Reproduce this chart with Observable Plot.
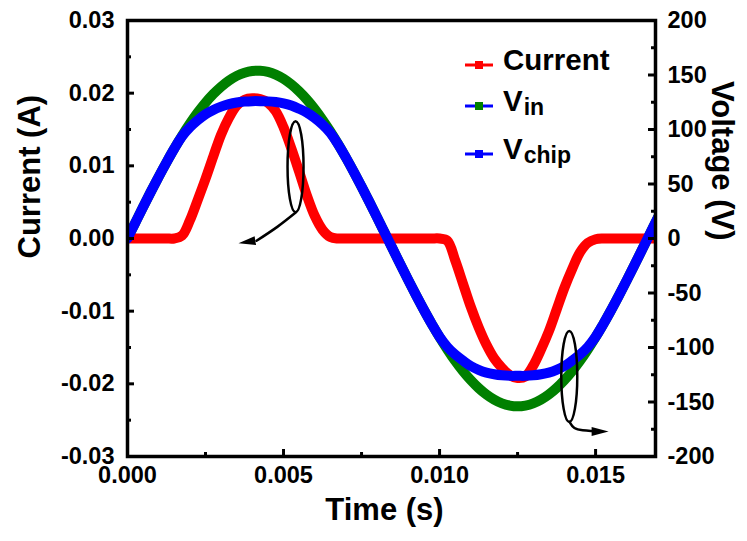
<!DOCTYPE html>
<html><head><meta charset="utf-8">
<script src="https://cdn.jsdelivr.net/npm/d3@7"></script>
<script src="https://cdn.jsdelivr.net/npm/@observablehq/plot@0.6"></script>
<style>body{margin:0;background:#fff} svg{display:block}</style>
</head><body><div id="chart"></div>
<script>
// ---- data ----
const time = [0, 0.00025, 0.0005, 0.00075, 0.001, 0.00125, 0.0015, 0.00175, 0.002, 0.00225, 0.0025, 0.00275, 0.003, 0.00325, 0.0035, 0.00375, 0.004, 0.00425, 0.0045, 0.00475, 0.005, 0.00525, 0.0055, 0.00575, 0.006, 0.00625, 0.0065, 0.00675, 0.007, 0.00725, 0.0075, 0.00775, 0.008, 0.00825, 0.0085, 0.00875, 0.009, 0.00925, 0.0095, 0.00975, 0.01, 0.01025, 0.0105, 0.01075, 0.011, 0.01125, 0.0115, 0.01175, 0.012, 0.01225, 0.0125, 0.01275, 0.013, 0.01325, 0.0135, 0.01375, 0.014, 0.01425, 0.0145, 0.01475, 0.015, 0.01525, 0.0155, 0.01575, 0.016, 0.01625, 0.0165, 0.01675, 0.017];
const current = [0, 0, 0, 0, 0, 0, 0, 0.0004, 0.0025, 0.0053, 0.0082, 0.0113, 0.0143, 0.0166, 0.0183, 0.0191, 0.0193, 0.0192, 0.0187, 0.0175, 0.0153, 0.0124, 0.0092, 0.0059, 0.0031, 0.0012, 0.0002, 0, 0, 0, 0, 0, 0, 0, 0, 0, 0, 0, 0, 0, 0, -0.0003, -0.003, -0.0062, -0.0094, -0.0122, -0.0146, -0.0165, -0.0178, -0.0188, -0.0192, -0.019, -0.0175, -0.0153, -0.0128, -0.0098, -0.0068, -0.0042, -0.0019, -0.0006, -0.0001, 0, 0, 0, 0, 0, 0, 0, 0];
const vin = [0, 14.5, 28.9, 43.0, 56.7, 69.9, 82.5, 94.4, 105.4, 115.5, 124.6, 132.5, 139.3, 144.9, 149.2, 152.1, 153.7, 153.9, 152.8, 150.3, 146.5, 141.3, 134.9, 127.4, 118.7, 108.9, 98.2, 86.6, 74.2, 61.2, 47.6, 33.6, 19.3, 4.8, -9.7, -24.1, -38.3, -52.2, -65.6, -78.4, -90.5, -101.8, -112.3, -121.7, -130.0, -137.2, -143.2, -147.9, -151.3, -153.3, -154.0, -153.3, -151.3, -147.9, -143.2, -137.2, -130.0, -121.7, -112.3, -101.8, -90.5, -78.4, -65.6, -52.2, -38.3, -24.1, -9.7, 4.8, 19.3];
const vchip = [0, 14.5, 28.9, 43.0, 56.7, 69.9, 82.5, 93.8, 102, 108.5, 114, 118, 121, 123.3, 124.8, 125.6, 126, 126, 125.8, 125.2, 124, 122, 119, 115.5, 110.5, 104.5, 97, 86.4, 74.2, 61.2, 47.6, 33.6, 19.3, 4.8, -9.7, -24.1, -38.3, -52.2, -65.6, -78.4, -90.2, -99.5, -106.5, -112, -117, -120.5, -123, -124.5, -125.5, -126, -126, -126, -125.5, -124.5, -123, -120.5, -117, -112, -106.5, -99.5, -90.2, -78.4, -65.6, -52.2, -38.3, -24.1, -9.7, 4.8, 19.3];

const currentTicks = [-0.03, -0.02, -0.01, 0, 0.01, 0.02, 0.03];
const currentMinorTicks = [-0.025, -0.015, -0.005, 0.005, 0.015, 0.025];
const voltageTicks = [-200, -150, -100, -50, 0, 50, 100, 150, 200];
const voltageMinorTicks = [-175, -125, -75, -25, 25, 75, 125, 175];
const timeTicks = [0, 0.005, 0.01, 0.015];
const timeMinorTicks = [0.0025, 0.0075, 0.0125];
const timeDomain = [0, 0.01692];
const currentDomain = [-0.03, 0.03];
const voltageDomain = [-200, 200];

const seriesNames = ["Current", "Vin", "Vchip"];
const seriesColors = ["#ff0000", "#008000", "#0000ff"];

// annotation positions (data units: time, current)
const ellipseNotes = [{t: 0.005385, i: 0.009876}, {t: 0.014157, i: -0.018981}];
const arrow1Path = [{t: 0.0054006, i: 0.003609}, {t: 0.0048, i: 0.0016}, {t: 0.0041346, i: -0.000317}];
const arrow2Path = [{t: 0.014167, i: -0.025234}, {t: 0.014295, i: -0.026198}, {t: 0.014583, i: -0.026419}, {t: 0.014904, i: -0.026488}];
const arrowTips = [{t: 0.0035577, i: -0.000661, angle: 261}, {t: 0.015417, i: -0.026556, angle: 90}];

// ---- build ----
const voltToCurrent = currentDomain[1] / voltageDomain[1];
const rows = time.map((t, k) => ({t, current: current[k], vin: vin[k] * voltToCurrent, vchip: vchip[k] * voltToCurrent}));

const W = 747, H = 541, mL = 127, mR = 92, mT = 20, mB = 85;
const fw = W - mL - mR, fh = H - mT - mB;
const font = "'Liberation Sans', Arial, Helvetica, sans-serif";

function ellipseSymbol(rx, ry) {
  const k = 0.5523;
  return {draw(c) {
    c.moveTo(0, -ry);
    c.bezierCurveTo(k * rx, -ry, rx, -k * ry, rx, 0);
    c.bezierCurveTo(rx, k * ry, k * rx, ry, 0, ry);
    c.bezierCurveTo(-k * rx, ry, -rx, k * ry, -rx, 0);
    c.bezierCurveTo(-rx, -k * ry, -k * rx, -ry, 0, -ry);
    c.closePath();
  }};
}
const headSymbol = {draw(c) { c.moveTo(0, 0); c.lineTo(-4.5, 17); c.lineTo(4.5, 17); c.closePath(); }};

const lineOpts = {x: "t", strokeWidth: 10, curve: "catmull-rom", clip: true};
const tickFont = 23.5;

const plot = Plot.plot({
  width: W, height: H,
  marginLeft: mL, marginRight: mR, marginTop: mT, marginBottom: mB,
  style: {fontFamily: font, fontWeight: "bold", fontSize: "22px", color: "#000", background: "#fff"},
  x: {domain: timeDomain},
  y: {domain: currentDomain},
  marks: [
    Plot.line(rows, {...lineOpts, y: "vin", stroke: seriesColors[1]}),
    Plot.line(rows, {...lineOpts, y: "current", stroke: seriesColors[0]}),
    Plot.line(rows, {...lineOpts, y: "vchip", stroke: seriesColors[2]}),
    // inward ticks
    Plot.tickY(currentTicks, {stroke: "#000", strokeWidth: 3, insetRight: fw - 7}),
    Plot.tickY(currentMinorTicks, {stroke: "#000", strokeWidth: 3, insetRight: fw - 4}),
    Plot.tickY(voltageTicks.map(v => v * voltToCurrent), {stroke: "#000", strokeWidth: 3, insetLeft: fw - 7}),
    Plot.tickY(voltageMinorTicks.map(v => v * voltToCurrent), {stroke: "#000", strokeWidth: 3, insetLeft: fw - 4}),
    Plot.tickX(timeTicks, {stroke: "#000", strokeWidth: 3, insetTop: fh - 7}),
    Plot.tickX(timeMinorTicks, {stroke: "#000", strokeWidth: 3, insetTop: fh - 4}),
    Plot.frame({stroke: "#000", strokeWidth: 3.5}),
    // axes labels
    Plot.axisY(currentTicks, {anchor: "left", tickSize: 0, tickPadding: 13, tickFormat: d => d.toFixed(2), label: null, fontSize: tickFont, fontWeight: "bold"}),
    Plot.axisY(voltageTicks.map(v => v * voltToCurrent), {anchor: "right", tickSize: 0, tickPadding: 12, tickFormat: d => String(Math.round(d / voltToCurrent)), label: null, fontSize: tickFont, fontWeight: "bold"}),
    Plot.axisX(timeTicks, {anchor: "bottom", tickSize: 0, tickPadding: 10, tickFormat: d => d.toFixed(3), label: null, fontSize: tickFont, fontWeight: "bold"}),
    Plot.text(["Current (A)"], {frameAnchor: "left", rotate: -90, dx: -97, dy: 20, fontSize: 31, fontWeight: "bold"}),
    Plot.text(["Time (s)"], {frameAnchor: "bottom", dx: -7, dy: 63, fontSize: 31, fontWeight: "bold"}),
    Plot.text(["Voltage (V)"], {frameAnchor: "right", rotate: 90, dx: 66, dy: 2, fontSize: 31, fontWeight: "bold"}),
    // annotations
    Plot.dot(ellipseNotes, {x: "t", y: "i", symbol: ellipseSymbol(8, 45.5), fill: "none", stroke: "#000", strokeWidth: 2.5}),
    Plot.line(arrow1Path, {x: "t", y: "i", curve: "natural", stroke: "#000", strokeWidth: 2.5}),
    Plot.line(arrow2Path, {x: "t", y: "i", curve: "basis", stroke: "#000", strokeWidth: 2.5}),
    Plot.dot(arrowTips, {x: "t", y: "i", symbol: headSymbol, rotate: "angle", fill: "#000", stroke: "none"})
  ]
});

// legend (inside plot, top right)
const svg = d3.select(plot);
const legendRows = [
  {main: "Current", sub: null, line: seriesColors[0], marker: seriesColors[0], y: 65},
  {main: "V", sub: "in", line: seriesColors[2], marker: seriesColors[1], y: 106},
  {main: "V", sub: "chip", line: seriesColors[2], marker: seriesColors[2], y: 154}
];
const lg = svg.append("g").attr("font-family", font).attr("font-weight", "bold").attr("text-anchor", "start");
legendRows.forEach(r => {
  lg.append("line").attr("x1", 465).attr("x2", 493).attr("y1", r.y).attr("y2", r.y)
    .attr("stroke", r.line).attr("stroke-width", 3);
  lg.append("rect").attr("x", 475).attr("y", r.y - 4).attr("width", 8).attr("height", 8).attr("fill", r.marker);
  const t = lg.append("text").attr("x", 503).attr("y", r.y + 5).attr("font-size", 29.5).attr("fill", "#000").attr("text-anchor", "start");
  t.append("tspan").text(r.main);
  if (r.sub) t.append("tspan").attr("font-size", 23).attr("dy", 4).attr("dx", 1).text(r.sub);
});

document.getElementById("chart").appendChild(plot);
</script>
</body></html>
